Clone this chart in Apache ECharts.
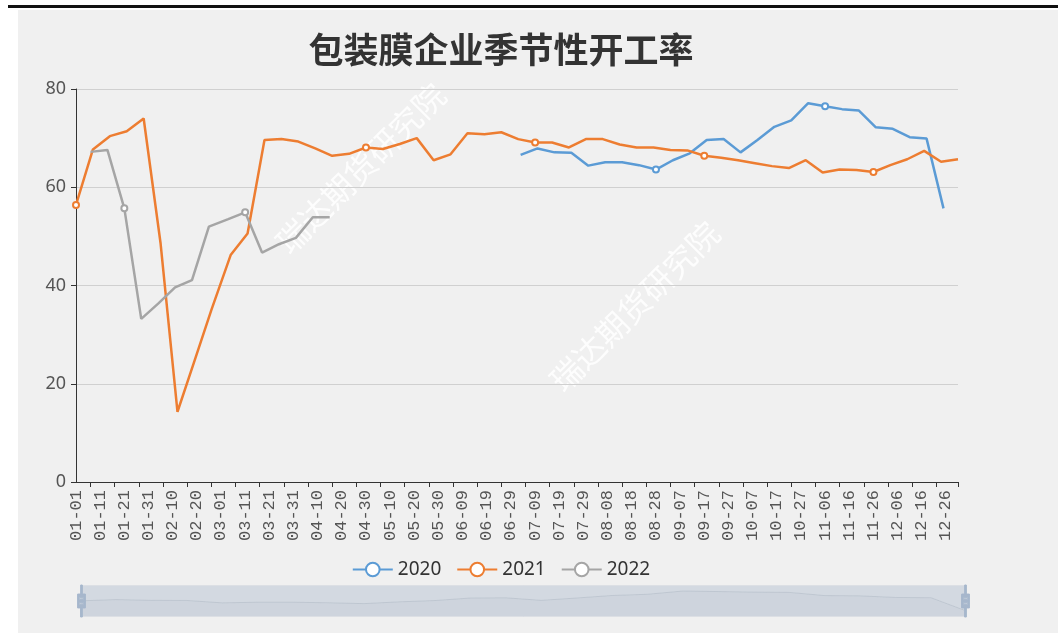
<!DOCTYPE html>
<html>
<head>
<meta charset="utf-8">
<title>包装膜企业季节性开工率</title>
<script src="https://cdn.jsdelivr.net/npm/echarts@6/dist/echarts.min.js"></script>
<style>
  body { margin: 0; background: #fff; }
  #topline { position: absolute; left: 8px; top: 5px; width: 1050px; height: 3px; background: #111; }
  #panel { position: absolute; left: 18px; top: 10px; width: 1040px; height: 623px; background: #f0f0f0; }
  #chart { position: absolute; left: 18px; top: 10px; width: 966px; height: 623px; }
</style>
</head>
<body>
<div id="topline"></div>
<div id="panel"></div>
<div id="chart"></div>
<script>
// month lengths of a leap year -> every MM-DD of the year on the x axis
var monthDays = [31, 29, 31, 30, 31, 30, 31, 31, 30, 31, 30, 31]
var categories = []
monthDays.forEach(function (n, m) {
    for (var d = 1; d <= n; d++) {
        categories.push(String(m + 1).padStart(2, '0') + '-' + String(d).padStart(2, '0'))
    }
})

var years = ['2020', '2021', '2022']
var colors = ['#5b9bd5', '#ed7d31', '#a5a5a5']

var dates2020 = ['07-03', '07-10', '07-17', '07-24', '07-31', '08-07', '08-14', '08-21', '08-28',
    '09-04', '09-11', '09-18', '09-25', '10-02', '10-09', '10-16', '10-23', '10-30',
    '11-06', '11-13', '11-20', '11-27', '12-04', '12-11', '12-18', '12-25']
var values2020 = [66.6, 67.9, 67.1, 67.0, 64.4, 65.1, 65.1, 64.5, 63.6,
    65.5, 66.9, 69.6, 69.8, 67.1, 69.6, 72.3, 73.6, 77.1,
    76.5, 75.9, 75.6, 72.2, 71.9, 70.2, 69.9, 55.7]

var dates2021 = ['01-01', '01-08', '01-15', '01-22', '01-29', '02-05', '02-12', '02-19', '02-26',
    '03-05', '03-12', '03-19', '03-26', '04-02', '04-09', '04-16', '04-23', '04-30',
    '05-07', '05-14', '05-21', '05-28', '06-04', '06-11', '06-18', '06-25',
    '07-02', '07-09', '07-16', '07-23', '07-30', '08-06', '08-13', '08-20', '08-27',
    '09-03', '09-10', '09-17', '09-24', '10-01', '10-08', '10-15', '10-22', '10-29',
    '11-05', '11-12', '11-19', '11-26', '12-03', '12-10', '12-17', '12-24', '12-31']
var values2021 = [56.4, 67.7, 70.4, 71.4, 74.0, 48.6, 14.3, 24.6, 35.0,
    46.2, 50.6, 69.6, 69.8, 69.3, 67.9, 66.4, 66.8, 68.1,
    67.8, 68.8, 70.0, 65.5, 66.7, 71.0, 70.8, 71.2,
    69.8, 69.1, 69.1, 68.1, 69.8, 69.8, 68.7, 68.1, 68.1,
    67.6, 67.5, 66.4, 66.0, 65.5, 64.9, 64.3, 63.9, 65.5,
    63.0, 63.6, 63.5, 63.1, 64.5, 65.7, 67.4, 65.2, 65.7]

var dates2022 = ['01-07', '01-14', '01-21', '01-28', '02-04', '02-11', '02-18', '02-25',
    '03-04', '03-11', '03-18', '03-25', '04-01', '04-08', '04-15']
var values2022 = [67.2, 67.6, 55.7, 33.2, 36.3, 39.6, 41.1, 52.0,
    53.5, 54.9, 46.7, 48.4, 49.7, 53.9, 53.9]

var yTicks = [0, 20, 40, 60, 80]

function pairs(dates, values) {
    return dates.map(function (d, i) { return [d, values[i]] })
}
var seriesData = [pairs(dates2020, values2020), pairs(dates2021, values2021), pairs(dates2022, values2022)]

var myChart = echarts.init(document.getElementById('chart'))

var option = {
    backgroundColor: 'transparent',
    color: colors,
    title: {
        text: '包装膜企业季节性开工率',
        left: 'center',
        top: 17,
        textStyle: { fontSize: 35, fontWeight: 'bold', color: '#333', fontFamily: 'Noto Sans CJK SC' }
    },
    legend: {
        data: years,
        bottom: 49,
        itemWidth: 40,
        itemHeight: 17,
        itemGap: 15,
        textStyle: { fontSize: 19, color: '#333', fontFamily: 'Noto Sans' }
    },
    grid: { left: 58, right: 26, top: 79, bottom: 151 },
    xAxis: {
        type: 'category',
        data: categories,
        boundaryGap: false,
        axisLine: { lineStyle: { color: '#333' } },
        axisTick: {
            length: 5,
            interval: function (idx) { return idx % 10 === 6 || idx === categories.length - 1 }
        },
        axisLabel: {
            interval: 9,
            rotate: 90,
            margin: 8,
            color: '#555',
            fontSize: 17,
            fontFamily: 'Liberation Mono'
        }
    },
    yAxis: {
        type: 'value',
        min: yTicks[0],
        max: yTicks[yTicks.length - 1],
        interval: 20,
        axisLine: { show: true, lineStyle: { color: '#333' } },
        axisTick: { show: true, length: 5 },
        axisLabel: { color: '#555', fontSize: 18, margin: 10, fontFamily: 'Noto Sans' },
        splitLine: { lineStyle: { color: '#d0d0d0' } }
    },
    dataZoom: [{
        type: 'slider',
        xAxisIndex: 0,
        start: 0,
        end: 100,
        left: 60,
        right: 20,
        top: 575,
        height: 32,
        showDetail: false,
        brushSelect: false,
        moveHandleSize: 0,
        borderColor: '#dcdfe4',
        backgroundColor: 'rgba(47,69,84,0)',
        fillerColor: 'rgba(167,183,203,0.4)',
        handleIcon: 'M8.2,13.6V3.9H6.3v9.7H3.1v14.9h3.3v9.7h1.8v-9.7h3.3V13.6H8.2z M9.7,24.4H4.8v-1.4h4.9V24.4z M9.7,19.1H4.8v-1.4h4.9V19.1z',
        handleSize: '100%',
        handleStyle: { color: '#a7b7cc', borderColor: '#a7b7cc' },
        dataBackground: {
            lineStyle: { color: '#2f4554', width: 0.5, opacity: 0.3 },
            areaStyle: { color: 'rgba(47,69,84,0.15)' }
        },
        selectedDataBackground: {
            lineStyle: { color: '#2f4554', width: 0.5, opacity: 0.3 },
            areaStyle: { color: 'rgba(47,69,84,0.15)' }
        }
    }],
    graphic: [
        {
            type: 'text', left: 252, top: 68, rotation: Math.PI / 4,
            style: { text: '瑞达期货研究院', fill: 'rgba(255,255,255,0.85)', font: '32px "Noto Sans CJK SC"' }
        },
        {
            type: 'text', left: 526, top: 206, rotation: Math.PI / 4,
            style: { text: '瑞达期货研究院', fill: 'rgba(255,255,255,0.85)', font: '32px "Noto Sans CJK SC"' }
        }
    ],
    series: years.map(function (y, i) {
        return {
            name: y,
            type: 'line',
            data: seriesData[i],
            symbol: 'emptyCircle',
            symbolSize: 6,
            lineStyle: { width: 2.5 },
            connectNulls: true
        }
    })
}

myChart.setOption(option)
</script>
</body>
</html>
